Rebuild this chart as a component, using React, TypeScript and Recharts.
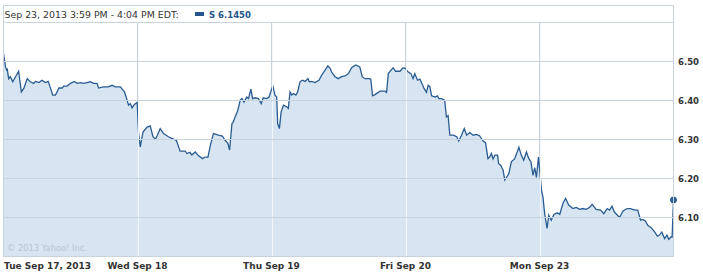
import { AreaChart, Area, XAxis, YAxis, CartesianGrid, ReferenceLine } from "recharts";

// minutes since Tue 9:30 open, 390 per session (5 sessions)
const minutes = [
  0, 6, 9, 11, 15, 20, 27, 35, 44, 52, 59, 69, 78, 88, 93, 103, 112, 122, 130, 137, 143, 151, 156, 161, 171, 175,
  185, 195, 206, 214, 224, 233, 243, 253, 262, 272, 277, 291, 305, 316, 325, 340, 352, 357, 364, 369, 374, 381, 389,
  393, 398, 406, 418, 427, 435, 442, 448, 456, 466, 480, 490, 503, 514, 529, 534, 543, 548, 558, 568, 579, 587, 595,
  602, 611, 626, 637, 645, 653, 658, 665, 669, 674, 682, 689, 694, 700, 708, 713, 720, 725, 732, 742, 750, 756, 766,
  773, 779, 784,
  790, 795, 798, 803, 808, 815, 824, 829, 834, 839, 844, 851, 856, 863, 870, 878, 886, 890, 897, 907, 918, 926, 936,
  944, 951, 955, 965, 974, 984, 994, 1004, 1013, 1025, 1037, 1044, 1052, 1062, 1069, 1074, 1081, 1096, 1110, 1115,
  1120, 1128, 1134, 1141, 1154, 1163, 1170,
  1178, 1186, 1192, 1197, 1205, 1212, 1219, 1224, 1231, 1236, 1241, 1246, 1256, 1263, 1267, 1275, 1284, 1289, 1294,
  1299, 1309, 1319, 1325, 1333, 1341, 1348, 1357, 1367, 1377, 1386, 1396, 1403, 1410, 1415, 1420, 1425, 1430, 1438,
  1441, 1447, 1454, 1459, 1467, 1471, 1478, 1488, 1500, 1507, 1514, 1522, 1529, 1535, 1541, 1546, 1551, 1557,
  1566, 1570, 1575, 1582, 1587, 1594, 1602, 1612, 1619, 1628, 1636, 1645, 1657, 1667, 1677, 1686, 1696, 1706, 1713,
  1725, 1738, 1747, 1757, 1764, 1771, 1778, 1793, 1803, 1815, 1825, 1837, 1846, 1854, 1861, 1868, 1875, 1885, 1895,
  1903, 1909, 1916, 1924, 1931, 1936, 1943, 1946, 1950,
];

const prices = [
  6.52, 6.486, 6.478, 6.48, 6.456, 6.461, 6.448, 6.461, 6.475, 6.422, 6.431, 6.456, 6.448, 6.444, 6.449, 6.446, 6.452,
  6.446, 6.449, 6.431, 6.414, 6.414, 6.422, 6.432, 6.432, 6.437, 6.437, 6.444, 6.449, 6.444, 6.446, 6.444, 6.446, 6.448,
  6.444, 6.444, 6.432, 6.435, 6.435, 6.439, 6.435, 6.435, 6.422, 6.409, 6.388, 6.392, 6.381, 6.39, 6.395,
  6.318, 6.281, 6.319, 6.332, 6.335, 6.307, 6.301, 6.311, 6.328, 6.315, 6.307, 6.303, 6.298, 6.27, 6.27, 6.264, 6.267,
  6.26, 6.268, 6.258, 6.251, 6.255, 6.255, 6.285, 6.315, 6.311, 6.309, 6.298, 6.29, 6.273, 6.341, 6.345, 6.358, 6.375,
  6.401, 6.405, 6.396, 6.409, 6.405, 6.429, 6.405, 6.407, 6.405, 6.392, 6.407, 6.405, 6.409, 6.426, 6.437,
  6.414, 6.409, 6.341, 6.328, 6.371, 6.388, 6.384, 6.38, 6.422, 6.414, 6.418, 6.414, 6.422, 6.448, 6.452, 6.449, 6.456,
  6.448, 6.449, 6.446, 6.452, 6.465, 6.478, 6.489, 6.482, 6.473, 6.461, 6.456, 6.461, 6.463, 6.469, 6.484, 6.491, 6.486,
  6.461, 6.456, 6.456, 6.455, 6.412, 6.415, 6.424, 6.424, 6.421, 6.469, 6.478, 6.484, 6.475, 6.475, 6.484, 6.482,
  6.473, 6.469, 6.456, 6.469, 6.452, 6.455, 6.441, 6.431, 6.421, 6.439, 6.435, 6.412, 6.409, 6.412, 6.405, 6.405, 6.401,
  6.358, 6.361, 6.311, 6.311, 6.307, 6.296, 6.311, 6.328, 6.311, 6.318, 6.311, 6.313, 6.309, 6.296, 6.292, 6.251, 6.255,
  6.264, 6.25, 6.26, 6.26, 6.238, 6.234, 6.221, 6.196, 6.207, 6.213, 6.243, 6.251, 6.28, 6.26, 6.247, 6.268, 6.251,
  6.243, 6.208, 6.228, 6.203, 6.255,
  6.168, 6.153, 6.11, 6.072, 6.106, 6.093, 6.108, 6.112, 6.108, 6.136, 6.149, 6.132, 6.123, 6.126, 6.121, 6.123, 6.121,
  6.126, 6.134, 6.121, 6.119, 6.11, 6.123, 6.119, 6.129, 6.114, 6.1, 6.117, 6.123, 6.123, 6.119, 6.119, 6.093, 6.095,
  6.091, 6.08, 6.074, 6.063, 6.052, 6.055, 6.063, 6.046, 6.055, 6.044, 6.05, 6.05, 6.145,
];

const dayTicks = [0, 390, 780, 1170, 1560];
const dayLabels = ["Tue Sep 17, 2013", "Wed Sep 18", "Thu Sep 19", "Fri Sep 20", "Mon Sep 23"];
const priceTicks = [6.1, 6.2, 6.3, 6.4, 6.5];
const gridLevels = [6.0, 6.1, 6.2, 6.3, 6.4, 6.5, 6.6];
const symbol = "S";
const quoteTime = "Sep 23, 2013 3:59 PM - 4:04 PM EDT:";
const copyright = "\u00a9 2013 Yahoo! Inc.";

const data = minutes.map((t, i) => ({ t, price: prices[i] }));
const lastPrice = prices[prices.length - 1];

const FONT = "DejaVu Sans";
const LINE = "#2a5c92";
const GRID = "#c8d3dc";

function DayTick(props: any) {
  const { x, y, payload } = props;
  const i = dayTicks.indexOf(payload.value);
  const first = i === 0;
  return (
    <text
      x={first ? x + 0.5 : x}
      y={y + 12.5}
      textAnchor={first ? "start" : "middle"}
      fontFamily={FONT}
      fontWeight="bold"
      fontSize={9}
      fill="#333"
    >
      {dayLabels[i]}
    </text>
  );
}

function PriceTick(props: any) {
  const { x, y, payload } = props;
  return (
    <text x={x + 4.5} y={y + 3} textAnchor="start" fontFamily={FONT} fontWeight="bold" fontSize={8.5} fill="#333">
      {payload.value.toFixed(2)}
    </text>
  );
}

function LastDot(props: any) {
  const { cx, cy, index } = props;
  if (index !== data.length - 1) return <g key={index} />;
  return <circle key={index} cx={cx} cy={cy} r={3} fill={LINE} stroke={LINE} />;
}

export default function App() {
  return (
    <div style={{ position: "absolute", left: 0, top: 0, width: 703, height: 273, background: "#fff" }}>
      <AreaChart width={703} height={273} data={data} margin={{ top: 22.5, right: 0, bottom: 0, left: 3.5 }}>
        <CartesianGrid horizontal={false} stroke={GRID} />
        <XAxis
          dataKey="t"
          type="number"
          domain={[0, 1950]}
          ticks={dayTicks}
          height={16.5}
          axisLine={false}
          tickLine={false}
          tickSize={0}
          tickMargin={0}
          interval={0}
          tick={<DayTick />}
        />
        <YAxis
          orientation="right"
          type="number"
          domain={[6.0, 6.6]}
          ticks={priceTicks}
          width={29.5}
          axisLine={false}
          tickLine={false}
          tickSize={0}
          tickMargin={0}
          interval={0}
          tick={<PriceTick />}
        />
        <Area
          type="linear"
          dataKey="price"
          stroke={LINE}
          strokeWidth={1.3}
          fill="#d6e5f1"
          fillOpacity={1}
          dot={LastDot}
          activeDot={false}
          isAnimationActive={false}
        />
        {dayTicks.slice(1).map((t) => (
          <ReferenceLine key={"w" + t} x={t + 3} stroke="#f3f7fa" strokeWidth={1} />
        ))}
        {gridLevels.map((v) => (
          <ReferenceLine key={"h" + v} y={v} stroke={GRID} strokeWidth={1} />
        ))}
      </AreaChart>
      <svg
        width={703}
        height={273}
        style={{ position: "absolute", left: 0, top: 0, pointerEvents: "none" }}
      >
        <rect x={3.5} y={5.5} width={670} height={251} fill="none" stroke={GRID} />
        <text x={4.5} y={17.5} fontFamily={FONT} fontSize={9.4} fill="#333">
          {quoteTime}
        </text>
        <rect x={195} y={12} width={9} height={4} fill="#24548a" />
        <text x={209} y={17.5} fontFamily={FONT} fontSize={8.5} fontWeight="bold" fill="#24548a">
          {symbol + " " + lastPrice.toFixed(4)}
        </text>
        <text x={7} y={251} fontFamily={FONT} fontSize={8.3} fill="#b9c6d0">
          {copyright}
        </text>
      </svg>
    </div>
  );
}
